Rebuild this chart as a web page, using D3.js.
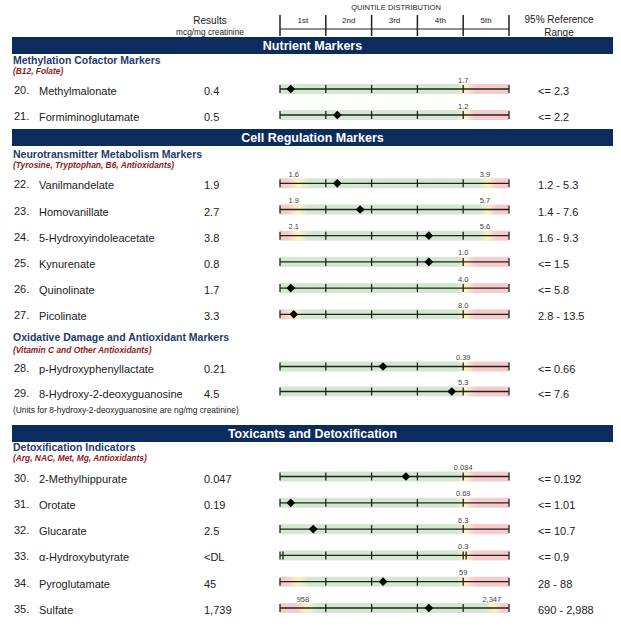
<!DOCTYPE html>
<html>
<head>
<meta charset="utf-8">
<script src="https://cdn.jsdelivr.net/npm/d3@7"></script>
<style>
  body { margin: 0; background: #fff; }
  svg { display: block; font-family: "Liberation Sans", Arial, sans-serif; }
</style>
</head>
<body>
<div id="container"><svg></svg></div>
<script>
// ---- data ----
let quintileLabels = ["1st", "2nd", "3rd", "4th", "5th"];
let quintileTicks = [0, 20, 40, 60, 80, 100];

let rowNums = ["20.", "21.", "22.", "23.", "24.", "25.", "26.", "27.", "28.", "29.", "30.", "31.", "32.", "33.", "34.", "35."];
let rowNames = ["Methylmalonate", "Formiminoglutamate", "Vanilmandelate", "Homovanillate",
  "5-Hydroxyindoleacetate", "Kynurenate", "Quinolinate", "Picolinate",
  "p-Hydroxyphenyllactate", "8-Hydroxy-2-deoxyguanosine",
  "2-Methylhippurate", "Orotate", "Glucarate", "α-Hydroxybutyrate", "Pyroglutamate", "Sulfate"];
let results = ["0.4", "0.5", "1.9", "2.7", "3.8", "0.8", "1.7", "3.3", "0.21", "4.5",
  "0.047", "0.19", "2.5", "<DL", "45", "1,739"];
// percentile position of each result on the quintile bar (null = below detection limit)
let percentiles = [4.7, 25, 25, 35, 65, 65, 4.7, 6, 45, 75, 55, 4.7, 14.5, null, 45, 65];
let refRanges = ["<= 2.3", "<= 2.2", "1.2 - 5.3", "1.4 - 7.6", "1.6 - 9.3", "<= 1.5", "<= 5.8",
  "2.8 - 13.5", "<= 0.66", "<= 7.6", "<= 0.192", "<= 1.01", "<= 10.7", "<= 0.9", "28 - 88", "690 - 2,988"];
// lower / upper limit markers (percentile) and their labels
let loLimit = [null, null, 6, 6, 6, null, null, 4, null, null, null, null, null, null, 6, 10];
let loLabel = ["", "", "1.6", "1.9", "2.1", "", "", "", "", "", "", "", "", "", "", "958"];
let hiLimit = [80, 80, 89.5, 89.5, 89.5, 80, 80, 80, 80, 80, 80, 80, 80, 80, 80, 92.5];
let hiLabel = ["1.7", "1.2", "3.9", "5.7", "5.6", "1.0", "4.0", "8.0", "0.39", "5.3",
  "0.084", "0.69", "6.3", "0.3", "59", "2,347"];

let sectionTitles = ["Nutrient Markers", "Cell Regulation Markers", "Toxicants and Detoxification"];
let groupTitles = ["Methylation Cofactor Markers", "Neurotransmitter Metabolism Markers",
  "Oxidative Damage and Antioxidant Markers", "Detoxification Indicators"];
let groupSubs = ["(B12, Folate)", "(Tyrosine, Tryptophan, B6, Antioxidants)",
  "(Vitamin C and Other Antioxidants)", "(Arg, NAC, Met, Mg, Antioxidants)"];
let groupRows = [[0, 1], [2, 3, 4, 5, 6, 7], [8, 9], [10, 11, 12, 13, 14, 15]];

// ---- layout ----
let width = 621, height = 631;
let navy = "#0c2c5e", titleBlue = "#1d3b6c", subRed = "#8e1b1b", ink = "#222";
let green = "#d3e7d1", yellow = "#fbf1c4", red = "#f6cbcb";

let bandTops = [37, 129, 425];
let groupLayout = [
  { head: 60, sub: 71, y0: 89, step: 26 },
  { head: 154, sub: 165, y0: 183.3, step: 26.2 },
  { head: 337, sub: 349.5, y0: 366.5, step: 25 },
  { head: 447, sub: 458, y0: 476.5, step: 26.3 }
];

let x = d3.scaleLinear().domain([0, 100]).range([280, 509]);

let svg = d3.select('#container').select('svg')
  .attr('width', width)
  .attr('height', height);

// header
let hdr = svg.append("g").attr("fill", ink);
hdr.append("text").attr("x", 396).attr("y", 10).attr("text-anchor", "middle")
  .attr("font-size", 7.5).text("QUINTILE DISTRIBUTION");
hdr.append("text").attr("x", 210).attr("y", 23.5).attr("text-anchor", "middle")
  .attr("font-size", 10).text("Results");
hdr.append("text").attr("x", 210).attr("y", 34.5).attr("text-anchor", "middle")
  .attr("font-size", 8.3).text("mcg/mg creatinine");
hdr.append("text").attr("x", 559).attr("y", 22.5).attr("text-anchor", "middle")
  .attr("font-size", 10).text("95% Reference");
hdr.append("text").attr("x", 559).attr("y", 35.5).attr("text-anchor", "middle")
  .attr("font-size", 10).text("Range");
hdr.append("line").attr("x1", x(0)).attr("x2", x(100)).attr("y1", 29).attr("y2", 29)
  .attr("stroke", ink).attr("stroke-width", 1);
hdr.selectAll("line.qt").data(quintileTicks).join("line").attr("class", "qt")
  .attr("x1", d => x(d)).attr("x2", d => x(d)).attr("y1", 15).attr("y2", 36)
  .attr("stroke", ink).attr("stroke-width", 1.5);
hdr.selectAll("text.ql").data(quintileLabels).join("text").attr("class", "ql")
  .attr("x", (d, i) => x(i * 20 + 10)).attr("y", 23)
  .attr("text-anchor", "middle").attr("font-size", 8).text(d => d);

// section bands
let bands = svg.append("g").selectAll("g").data(sectionTitles).join("g");
bands.append("rect").attr("x", 12).attr("width", 601)
  .attr("y", (d, i) => bandTops[i]).attr("height", 17).attr("fill", navy);
bands.append("text").attr("x", 312.5).attr("y", (d, i) => bandTops[i] + 13)
  .attr("text-anchor", "middle").attr("fill", "#fff")
  .attr("font-size", 12.5).attr("font-weight", "bold").text(d => d);

// group headings
let heads = svg.append("g");
heads.selectAll("text.gt").data(groupTitles).join("text").attr("class", "gt")
  .attr("x", 13).attr("y", (d, i) => groupLayout[i].head + 4)
  .attr("fill", titleBlue).attr("font-size", 10.5).attr("font-weight", "bold").text(d => d);
heads.selectAll("text.gs").data(groupSubs).join("text").attr("class", "gs")
  .attr("x", 13).attr("y", (d, i) => groupLayout[i].sub + 3)
  .attr("fill", subRed).attr("font-size", 8.4).attr("font-weight", "bold")
  .attr("font-style", "italic").text(d => d);

svg.append("text").attr("x", 13).attr("y", 413).attr("fill", ink).attr("font-size", 8.4)
  .text("(Units for 8-hydroxy-2-deoxyguanosine are ng/mg creatinine)");

// row y position
let rowY = [];
groupRows.forEach((rows, g) => {
  rows.forEach((r, i) => { rowY[r] = groupLayout[g].y0 + i * groupLayout[g].step; });
});

// gradients for each bar background
let defs = svg.append("defs");
rowNums.forEach((n, i) => {
  let stops = [];
  if (loLimit[i] != null) {
    let p = loLimit[i];
    stops.push([0, red], [p - 3, red], [p + 2, yellow], [p + 7, green]);
  } else {
    stops.push([0, green]);
  }
  let p = hiLimit[i];
  stops.push([p - 3, green], [p + 1, yellow], [p + 5, red], [100, red]);
  defs.append("linearGradient").attr("id", "grad" + i)
    .attr("x1", "0%").attr("x2", "100%").attr("y1", "0%").attr("y2", "0%")
    .selectAll("stop").data(stops).join("stop")
    .attr("offset", d => Math.max(0, Math.min(100, d[0])) + "%")
    .attr("stop-color", d => d[1]);
});

let rows = svg.append("g").selectAll("g.row").data(rowNums).join("g").attr("class", "row")
  .attr("transform", (d, i) => `translate(0,${rowY[i]})`);

rows.append("text").attr("x", 14).attr("y", 5).attr("font-size", 11).attr("fill", ink).text(d => d);
rows.append("text").attr("x", 39).attr("y", 6).attr("font-size", 11).attr("fill", ink).text((d, i) => rowNames[i]);
rows.append("text").attr("x", 204).attr("y", 6).attr("font-size", 11).attr("fill", ink).text((d, i) => results[i]);
rows.append("text").attr("x", 538).attr("y", 6).attr("font-size", 11).attr("fill", ink).text((d, i) => refRanges[i]);

rows.append("rect").attr("x", x(0)).attr("width", x(100) - x(0))
  .attr("y", -5).attr("height", 10).attr("fill", (d, i) => `url(#grad${i})`);
rows.append("line").attr("x1", x(0)).attr("x2", x(100)).attr("y1", 0).attr("y2", 0)
  .attr("stroke", ink).attr("stroke-width", 1.3);
rows.each(function (d, i) {
  let g = d3.select(this);
  let ticks = quintileTicks.slice();
  if (percentiles[i] == null) ticks = ticks.concat([1.3, 81.3]);
  g.selectAll("line.tk").data(ticks).join("line").attr("class", "tk")
    .attr("x1", t => x(t)).attr("x2", t => x(t)).attr("y1", -4).attr("y2", 4)
    .attr("stroke", ink).attr("stroke-width", 1.3);
  if (loLabel[i]) {
    g.append("text").attr("x", x(loLimit[i])).attr("y", -6.5).attr("text-anchor", "middle")
      .attr("font-size", 7.5).attr("fill", "#444").text(loLabel[i]);
  }
  g.append("text").attr("x", x(hiLimit[i])).attr("y", -6.5).attr("text-anchor", "middle")
    .attr("font-size", 7.5).attr("fill", "#444").text(hiLabel[i]);
  if (percentiles[i] != null) {
    g.append("path")
      .attr("d", d3.symbol(d3.symbolSquare, 38)())
      .attr("transform", `translate(${x(percentiles[i])},0) rotate(45)`)
      .attr("fill", "#000");
  }
});
</script>
</body>
</html>
